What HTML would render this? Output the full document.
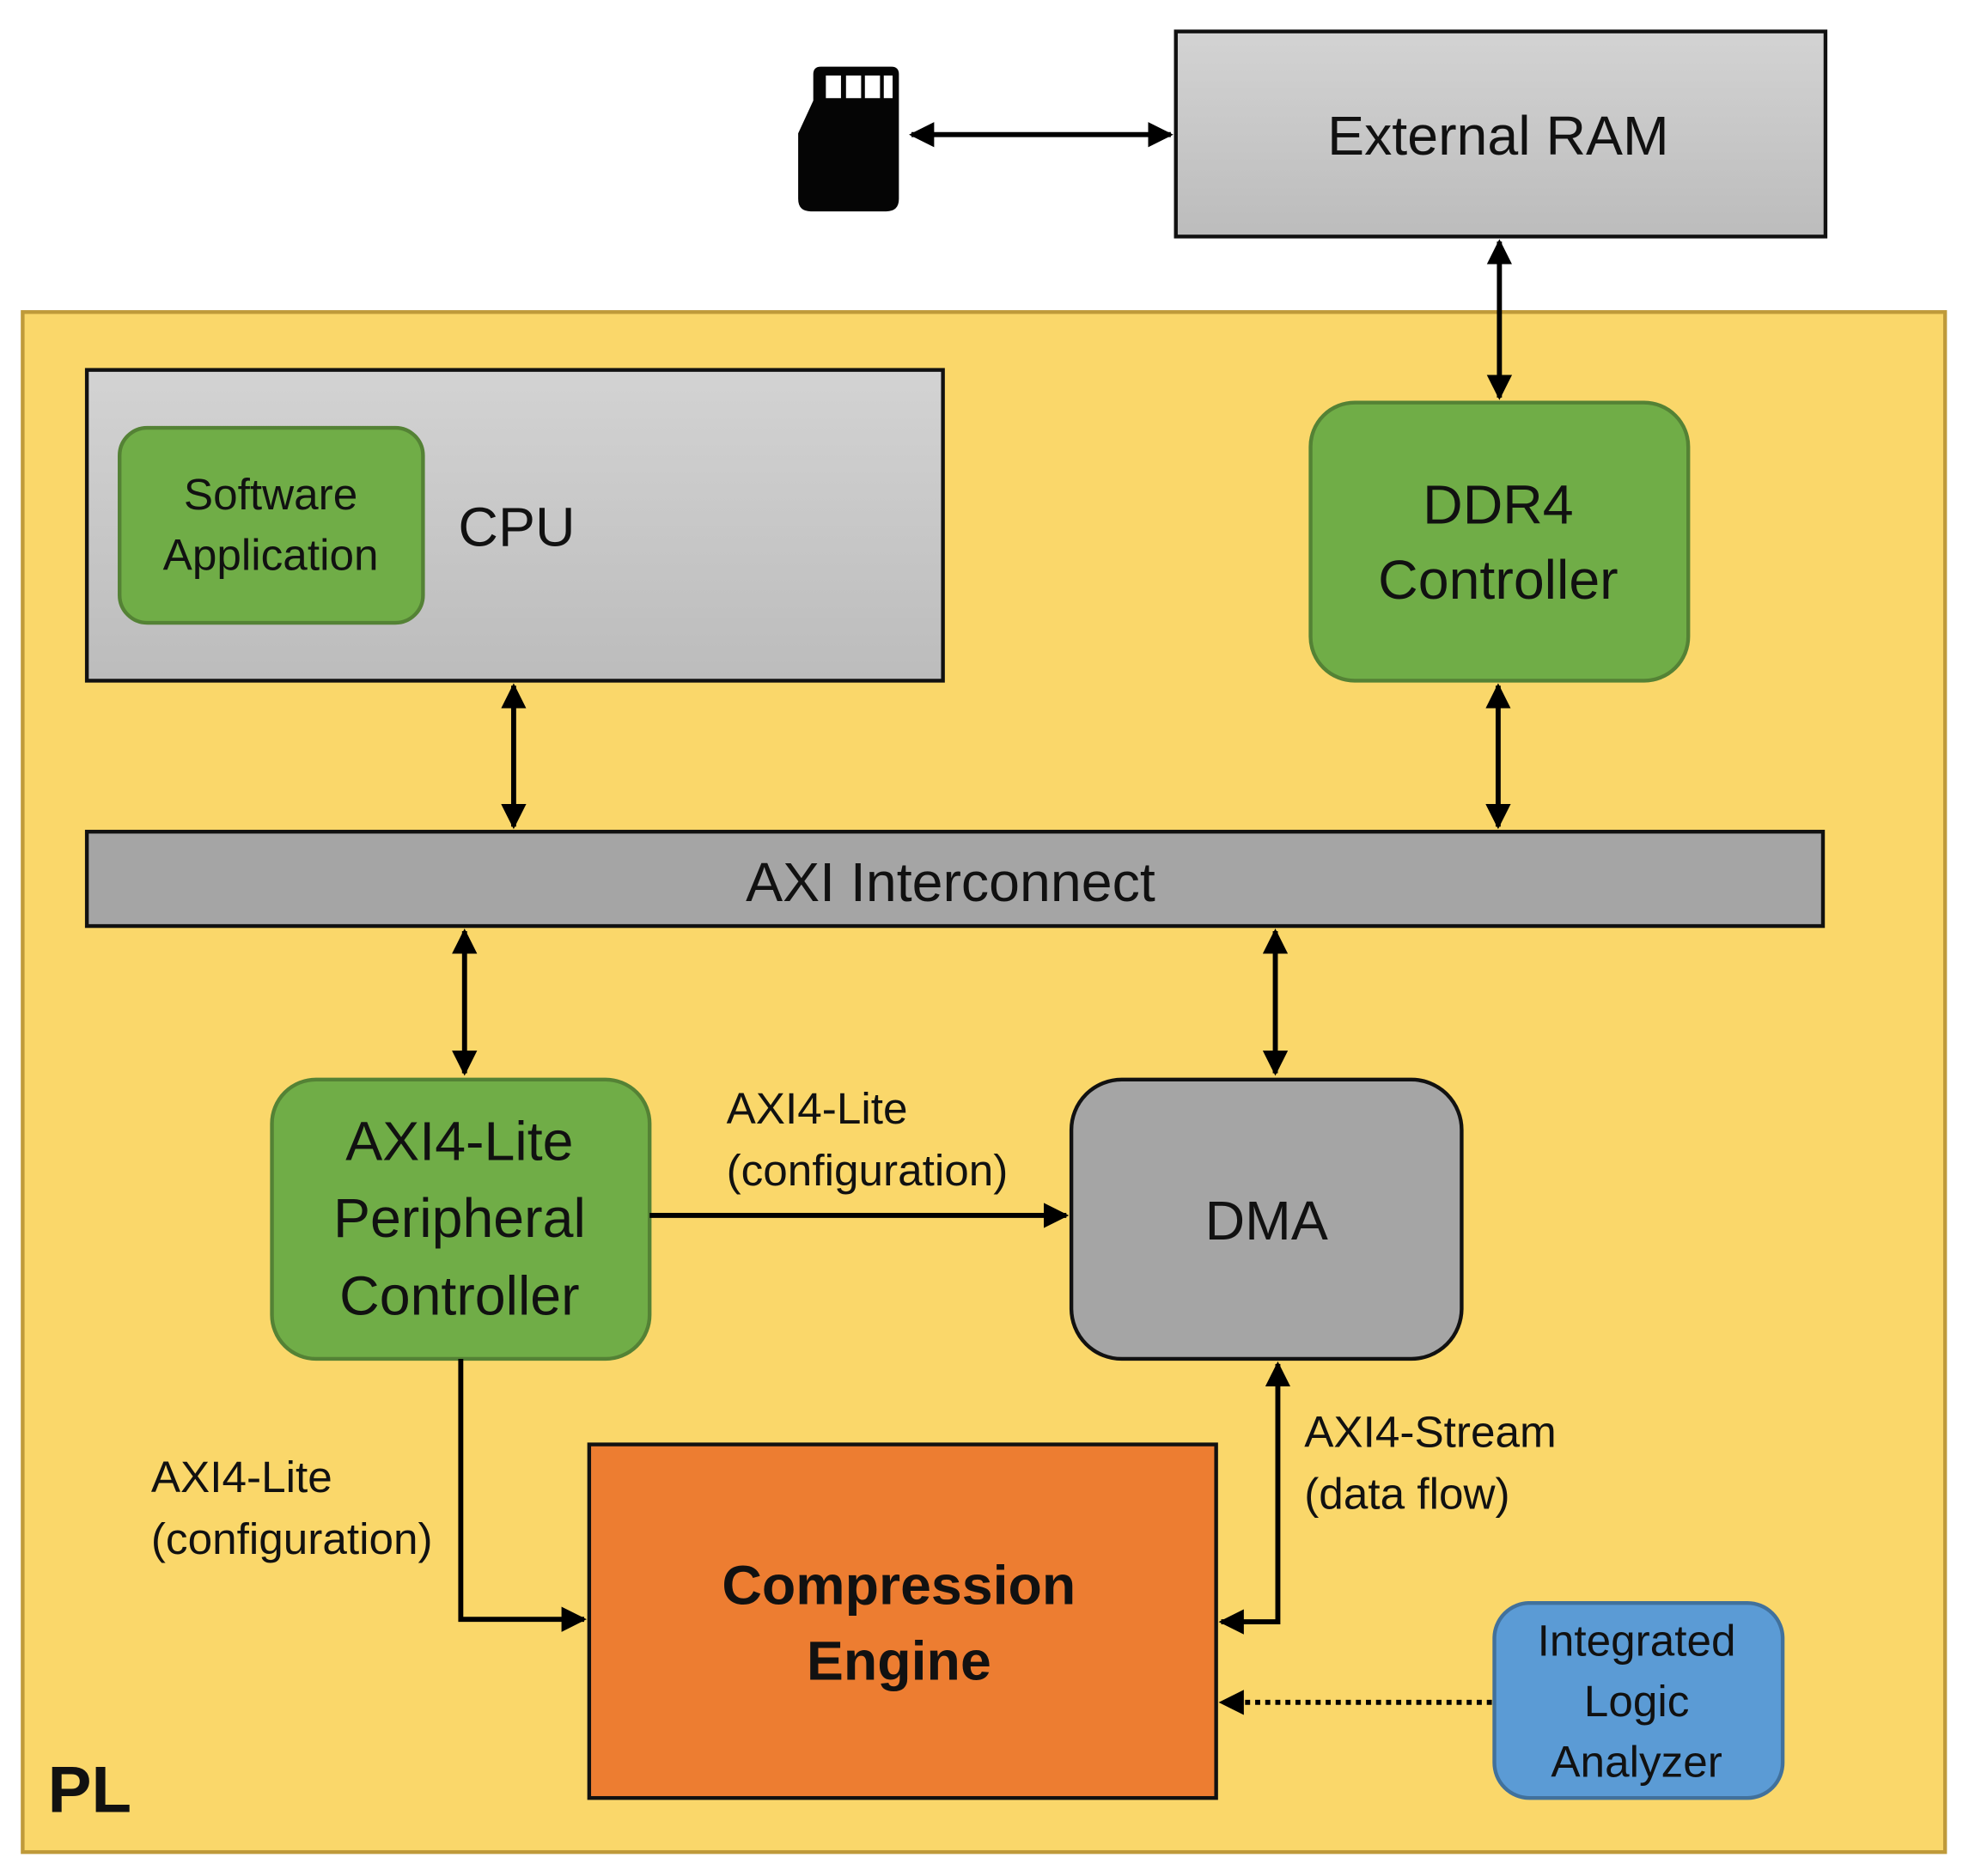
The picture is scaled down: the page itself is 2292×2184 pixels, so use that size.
<!DOCTYPE html>
<html><head><meta charset="utf-8"><style>
html,body{margin:0;padding:0;background:#fff;}
svg{display:block;}
text{font-family:"Liberation Sans",sans-serif;fill:#111;}
</style></head><body>
<svg width="2292" height="2184" viewBox="0 0 1564 1491" preserveAspectRatio="none" xmlns="http://www.w3.org/2000/svg">
<defs>
<linearGradient id="g" x1="0" y1="0" x2="0" y2="1"><stop offset="0" stop-color="#d3d3d3"/><stop offset="1" stop-color="#bcbcbc"/></linearGradient>
<marker id="a" viewBox="0 0 10 10" refX="9" refY="5" markerWidth="5" markerHeight="5" orient="auto-start-reverse"><path d="M0,0 L10,5 L0,10 z" fill="#000"/></marker>
</defs>
<rect width="1564" height="1491" fill="#fff"/>
<rect x="934" y="25" width="516" height="163" fill="url(#g)" stroke="#111" stroke-width="3"/>
<text x="1190" y="123" font-size="44" text-anchor="middle">External RAM</text>
<path d="M652,53 H708 Q714,53 714,59 V158 Q714,168 704,168 H644 Q634,168 634,158 V106 L646,80 V59 Q646,53 652,53 Z" fill="#050505"/>
<rect x="656" y="60" width="12" height="18" fill="#fff"/><rect x="672" y="60" width="12" height="18" fill="#fff"/>
<rect x="687" y="60" width="12" height="18" fill="#fff"/><rect x="702" y="60" width="7" height="18" fill="#fff"/>
<line x1="724" y1="107" x2="930" y2="107" stroke="#000" stroke-width="4" marker-start="url(#a)" marker-end="url(#a)"/>
<rect x="18" y="248" width="1527" height="1224" fill="#fad76a" stroke="#bf9a3a" stroke-width="3"/>
<text x="38" y="1440" font-size="52" font-weight="bold">PL</text>
<line x1="1191" y1="192" x2="1191" y2="316" stroke="#000" stroke-width="4" marker-start="url(#a)" marker-end="url(#a)"/>
<rect x="69" y="294" width="680" height="247" fill="url(#g)" stroke="#111" stroke-width="3"/>
<rect x="95" y="340" width="241" height="155" rx="22" fill="#70ad47" stroke="#548235" stroke-width="3"/>
<text x="215" y="405" font-size="35" text-anchor="middle">Software</text>
<text x="215" y="453" font-size="35" text-anchor="middle">Application</text>
<text x="364" y="434" font-size="44">CPU</text>
<rect x="1041" y="320" width="300" height="221" rx="35" fill="#70ad47" stroke="#548235" stroke-width="3"/>
<text x="1190" y="416" font-size="44" text-anchor="middle">DDR4</text>
<text x="1190" y="476" font-size="44" text-anchor="middle">Controller</text>
<line x1="408" y1="545" x2="408" y2="657" stroke="#000" stroke-width="4" marker-start="url(#a)" marker-end="url(#a)"/>
<line x1="1190" y1="545" x2="1190" y2="657" stroke="#000" stroke-width="4" marker-start="url(#a)" marker-end="url(#a)"/>
<rect x="69" y="661" width="1379" height="75" fill="#a5a5a5" stroke="#111" stroke-width="3"/>
<text x="755" y="716" font-size="44" text-anchor="middle">AXI Interconnect</text>
<line x1="369" y1="740" x2="369" y2="853" stroke="#000" stroke-width="4" marker-start="url(#a)" marker-end="url(#a)"/>
<line x1="1013" y1="740" x2="1013" y2="853" stroke="#000" stroke-width="4" marker-start="url(#a)" marker-end="url(#a)"/>
<rect x="216" y="858" width="300" height="222" rx="35" fill="#70ad47" stroke="#548235" stroke-width="3"/>
<text x="365" y="922" font-size="44" text-anchor="middle">AXI4-Lite</text>
<text x="365" y="983" font-size="44" text-anchor="middle">Peripheral</text>
<text x="365" y="1045" font-size="44" text-anchor="middle">Controller</text>
<rect x="851" y="858" width="310" height="222" rx="40" fill="#a5a5a5" stroke="#111" stroke-width="3"/>
<text x="1006" y="985" font-size="44" text-anchor="middle">DMA</text>
<line x1="516" y1="966" x2="847" y2="966" stroke="#000" stroke-width="4" marker-end="url(#a)"/>
<text x="577" y="893" font-size="35">AXI4-Lite</text>
<text x="577" y="942" font-size="35">(configuration)</text>
<polyline points="366,1080 366,1287 464,1287" fill="none" stroke="#000" stroke-width="4" marker-end="url(#a)"/>
<text x="120" y="1186" font-size="35">AXI4-Lite</text>
<text x="120" y="1235" font-size="35">(configuration)</text>
<rect x="468" y="1148" width="498" height="281" fill="#ed7d31" stroke="#111" stroke-width="3"/>
<text x="714" y="1275" font-size="44" font-weight="bold" text-anchor="middle">Compression</text>
<text x="714" y="1335" font-size="44" font-weight="bold" text-anchor="middle">Engine</text>
<polyline points="1015,1084 1015,1289 970,1289" fill="none" stroke="#000" stroke-width="4" marker-start="url(#a)" marker-end="url(#a)"/>
<text x="1036" y="1150" font-size="35">AXI4-Stream</text>
<text x="1036" y="1199" font-size="35">(data flow)</text>
<rect x="1187" y="1274" width="229" height="155" rx="28" fill="#5b9bd5" stroke="#41719c" stroke-width="3"/>
<text x="1300" y="1316" font-size="35" text-anchor="middle">Integrated</text>
<text x="1300" y="1364" font-size="35" text-anchor="middle">Logic</text>
<text x="1300" y="1412" font-size="35" text-anchor="middle">Analyzer</text>
<line x1="1185" y1="1353" x2="970" y2="1353" stroke="#000" stroke-width="4" stroke-dasharray="4,4" marker-end="url(#a)"/>
</svg>
</body></html>
